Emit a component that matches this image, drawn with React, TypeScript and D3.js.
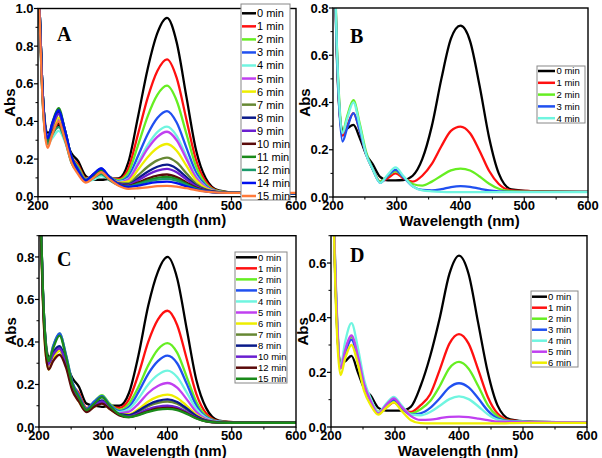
import React from "react";
import * as d3 from "d3";

// Wavelength sampling grid (nm)
const WL = [200, 203, 206, 210, 215, 222, 232, 242, 252, 262, 274, 286, 298, 310, 325, 340, 355, 370, 385, 400, 415, 430, 445, 460, 480, 510, 600];

const X_TICKS = [200, 300, 400, 500, 600];

// Panel A
const LABELS_A = ["0 min", "1 min", "2 min", "3 min", "4 min", "5 min", "6 min", "7 min", "8 min", "9 min", "10 min", "11 min", "12 min", "14 min", "15 min"];
const ABS_A: number[][] = [
  [1.3, 0.95, 0.65, 0.42, 0.34, 0.35, 0.38, 0.31, 0.23, 0.19, 0.11, 0.09, 0.09, 0.095, 0.097, 0.182, 0.424, 0.679, 0.869, 0.95, 0.82, 0.533, 0.248, 0.098, 0.033, 0.02, 0.018],
  [1.3, 0.93, 0.63, 0.4, 0.31, 0.34, 0.39, 0.31, 0.21, 0.17, 0.1, 0.1, 0.12, 0.105, 0.093, 0.149, 0.332, 0.525, 0.668, 0.73, 0.631, 0.412, 0.195, 0.081, 0.03, 0.02, 0.018],
  [1.3, 0.94, 0.64, 0.41, 0.3, 0.37, 0.44, 0.34, 0.21, 0.16, 0.095, 0.11, 0.13, 0.105, 0.088, 0.128, 0.273, 0.427, 0.541, 0.59, 0.51, 0.335, 0.161, 0.069, 0.029, 0.02, 0.018],
  [1.3, 0.95, 0.65, 0.41, 0.3, 0.38, 0.46, 0.35, 0.21, 0.15, 0.09, 0.12, 0.15, 0.11, 0.082, 0.108, 0.216, 0.332, 0.418, 0.455, 0.394, 0.261, 0.129, 0.059, 0.027, 0.02, 0.018],
  [1.3, 0.9, 0.6, 0.37, 0.28, 0.31, 0.35, 0.29, 0.18, 0.13, 0.08, 0.09, 0.11, 0.095, 0.078, 0.096, 0.182, 0.274, 0.343, 0.372, 0.323, 0.215, 0.109, 0.052, 0.026, 0.02, 0.018],
  [1.3, 0.92, 0.62, 0.38, 0.28, 0.34, 0.41, 0.32, 0.19, 0.14, 0.085, 0.11, 0.13, 0.1, 0.077, 0.092, 0.17, 0.255, 0.318, 0.345, 0.3, 0.201, 0.102, 0.05, 0.026, 0.02, 0.018],
  [1.3, 0.93, 0.63, 0.39, 0.29, 0.35, 0.42, 0.33, 0.2, 0.14, 0.085, 0.11, 0.135, 0.1, 0.075, 0.082, 0.143, 0.21, 0.259, 0.28, 0.244, 0.165, 0.087, 0.045, 0.025, 0.02, 0.018],
  [1.3, 0.94, 0.64, 0.4, 0.3, 0.37, 0.44, 0.34, 0.2, 0.14, 0.085, 0.115, 0.14, 0.105, 0.072, 0.071, 0.113, 0.159, 0.193, 0.208, 0.182, 0.125, 0.07, 0.039, 0.024, 0.02, 0.018],
  [1.3, 0.95, 0.65, 0.41, 0.3, 0.38, 0.45, 0.35, 0.21, 0.14, 0.085, 0.12, 0.145, 0.105, 0.07, 0.065, 0.097, 0.133, 0.159, 0.17, 0.149, 0.104, 0.06, 0.036, 0.024, 0.02, 0.018],
  [1.3, 0.94, 0.64, 0.4, 0.3, 0.37, 0.44, 0.34, 0.2, 0.14, 0.085, 0.115, 0.14, 0.1, 0.068, 0.062, 0.087, 0.117, 0.139, 0.148, 0.13, 0.092, 0.055, 0.034, 0.023, 0.02, 0.018],
  [1.3, 0.92, 0.62, 0.38, 0.28, 0.34, 0.39, 0.31, 0.19, 0.13, 0.08, 0.105, 0.125, 0.095, 0.065, 0.057, 0.075, 0.096, 0.112, 0.118, 0.104, 0.076, 0.048, 0.032, 0.023, 0.02, 0.018],
  [1.3, 0.95, 0.65, 0.41, 0.3, 0.39, 0.47, 0.35, 0.21, 0.14, 0.085, 0.115, 0.14, 0.1, 0.065, 0.056, 0.069, 0.087, 0.1, 0.105, 0.093, 0.068, 0.045, 0.031, 0.023, 0.02, 0.018],
  [1.3, 0.9, 0.6, 0.37, 0.28, 0.33, 0.37, 0.3, 0.18, 0.13, 0.08, 0.1, 0.12, 0.09, 0.062, 0.054, 0.065, 0.08, 0.091, 0.095, 0.085, 0.063, 0.042, 0.03, 0.022, 0.02, 0.018],
  [1.3, 0.95, 0.65, 0.41, 0.31, 0.39, 0.46, 0.35, 0.21, 0.14, 0.085, 0.12, 0.15, 0.105, 0.065, 0.052, 0.059, 0.07, 0.077, 0.08, 0.072, 0.055, 0.039, 0.029, 0.022, 0.02, 0.018],
  [1.3, 0.9, 0.6, 0.36, 0.26, 0.33, 0.4, 0.3, 0.18, 0.12, 0.075, 0.1, 0.13, 0.095, 0.058, 0.042, 0.045, 0.05, 0.056, 0.058, 0.054, 0.045, 0.035, 0.027, 0.022, 0.02, 0.02],
];

// Panel B
const LABELS_B = ["0 min", "1 min", "2 min", "3 min", "4 min"];
const ABS_B: number[][] = [
  [1.3, 0.9, 0.6, 0.37, 0.28, 0.29, 0.305, 0.25, 0.18, 0.14, 0.085, 0.07, 0.07, 0.072, 0.09, 0.16, 0.3, 0.5, 0.67, 0.725, 0.66, 0.47, 0.25, 0.1, 0.032, 0.025, 0.022],
  [1.3, 0.93, 0.63, 0.38, 0.26, 0.3, 0.355, 0.28, 0.18, 0.12, 0.065, 0.08, 0.1, 0.08, 0.065, 0.09, 0.14, 0.215, 0.28, 0.298, 0.27, 0.195, 0.11, 0.055, 0.028, 0.025, 0.022],
  [1.3, 0.95, 0.65, 0.4, 0.275, 0.34, 0.41, 0.31, 0.19, 0.12, 0.065, 0.09, 0.11, 0.085, 0.055, 0.048, 0.065, 0.09, 0.113, 0.12, 0.112, 0.087, 0.056, 0.035, 0.025, 0.023, 0.022],
  [1.3, 0.92, 0.62, 0.37, 0.235, 0.29, 0.355, 0.28, 0.18, 0.12, 0.06, 0.09, 0.115, 0.085, 0.045, 0.03, 0.028, 0.033, 0.042, 0.046, 0.043, 0.035, 0.028, 0.024, 0.022, 0.022, 0.022],
  [1.3, 0.94, 0.64, 0.39, 0.27, 0.33, 0.4, 0.3, 0.18, 0.12, 0.06, 0.095, 0.125, 0.09, 0.045, 0.028, 0.024, 0.022, 0.021, 0.021, 0.021, 0.021, 0.021, 0.021, 0.021, 0.021, 0.021],
];

// Panel C
const LABELS_C = ["0 min", "1 min", "2 min", "3 min", "4 min", "5 min", "6 min", "7 min", "8 min", "10 min", "12 min", "15 min"];
const ABS_C: number[][] = [
  [1.3, 0.95, 0.65, 0.42, 0.33, 0.34, 0.36, 0.3, 0.23, 0.19, 0.11, 0.1, 0.095, 0.1, 0.1, 0.16, 0.34, 0.57, 0.73, 0.8, 0.7, 0.46, 0.22, 0.09, 0.03, 0.022, 0.02],
  [1.3, 0.93, 0.63, 0.39, 0.3, 0.33, 0.37, 0.3, 0.2, 0.16, 0.09, 0.1, 0.12, 0.1, 0.09, 0.13, 0.25, 0.4, 0.505, 0.547, 0.48, 0.32, 0.155, 0.065, 0.028, 0.022, 0.02],
  [1.3, 0.95, 0.65, 0.41, 0.31, 0.38, 0.44, 0.34, 0.21, 0.15, 0.085, 0.12, 0.15, 0.11, 0.08, 0.11, 0.19, 0.29, 0.365, 0.395, 0.35, 0.235, 0.117, 0.052, 0.026, 0.021, 0.02],
  [1.3, 0.95, 0.65, 0.41, 0.3, 0.38, 0.44, 0.34, 0.21, 0.15, 0.085, 0.12, 0.145, 0.105, 0.075, 0.095, 0.165, 0.25, 0.31, 0.336, 0.3, 0.203, 0.1, 0.047, 0.025, 0.021, 0.02],
  [1.3, 0.92, 0.62, 0.38, 0.29, 0.34, 0.38, 0.3, 0.19, 0.13, 0.08, 0.1, 0.12, 0.095, 0.07, 0.085, 0.135, 0.2, 0.245, 0.265, 0.235, 0.162, 0.085, 0.042, 0.024, 0.021, 0.02],
  [1.3, 0.92, 0.62, 0.38, 0.29, 0.33, 0.37, 0.3, 0.19, 0.13, 0.08, 0.1, 0.12, 0.09, 0.065, 0.072, 0.11, 0.16, 0.193, 0.207, 0.185, 0.13, 0.07, 0.037, 0.023, 0.021, 0.02],
  [1.3, 0.9, 0.6, 0.36, 0.27, 0.32, 0.36, 0.29, 0.18, 0.12, 0.075, 0.095, 0.115, 0.085, 0.06, 0.06, 0.085, 0.12, 0.143, 0.152, 0.137, 0.1, 0.058, 0.033, 0.022, 0.02, 0.02],
  [1.3, 0.93, 0.63, 0.39, 0.3, 0.34, 0.37, 0.3, 0.19, 0.13, 0.08, 0.1, 0.12, 0.09, 0.06, 0.055, 0.073, 0.098, 0.114, 0.12, 0.11, 0.082, 0.05, 0.03, 0.022, 0.02, 0.02],
  [1.3, 0.94, 0.64, 0.4, 0.3, 0.35, 0.38, 0.31, 0.19, 0.13, 0.08, 0.105, 0.125, 0.09, 0.06, 0.056, 0.077, 0.105, 0.123, 0.13, 0.118, 0.087, 0.052, 0.031, 0.022, 0.02, 0.02],
  [1.3, 0.93, 0.63, 0.39, 0.3, 0.34, 0.37, 0.3, 0.19, 0.13, 0.08, 0.1, 0.12, 0.09, 0.058, 0.05, 0.064, 0.084, 0.096, 0.1, 0.092, 0.07, 0.045, 0.028, 0.021, 0.02, 0.02],
  [1.3, 0.9, 0.6, 0.36, 0.27, 0.31, 0.34, 0.28, 0.17, 0.12, 0.07, 0.095, 0.11, 0.085, 0.055, 0.046, 0.058, 0.075, 0.087, 0.09, 0.084, 0.065, 0.042, 0.027, 0.021, 0.02, 0.02],
  [1.3, 0.95, 0.65, 0.41, 0.31, 0.37, 0.43, 0.33, 0.2, 0.14, 0.08, 0.11, 0.14, 0.1, 0.06, 0.046, 0.056, 0.071, 0.082, 0.085, 0.079, 0.062, 0.04, 0.026, 0.021, 0.02, 0.02],
];

// Panel D
const LABELS_D = ["0 min", "1 min", "2 min", "3 min", "4 min", "5 min", "6 min"];
const ABS_D: number[][] = [
  [1.3, 0.9, 0.6, 0.34, 0.23, 0.24, 0.26, 0.2, 0.14, 0.115, 0.07, 0.06, 0.06, 0.06, 0.075, 0.15, 0.26, 0.4, 0.56, 0.627, 0.56, 0.38, 0.2, 0.08, 0.028, 0.02, 0.017],
  [1.3, 0.93, 0.62, 0.36, 0.23, 0.28, 0.33, 0.26, 0.16, 0.1, 0.055, 0.07, 0.09, 0.07, 0.055, 0.08, 0.12, 0.21, 0.305, 0.34, 0.305, 0.21, 0.11, 0.05, 0.024, 0.02, 0.017],
  [1.3, 0.94, 0.63, 0.36, 0.22, 0.27, 0.33, 0.26, 0.16, 0.1, 0.055, 0.075, 0.095, 0.07, 0.05, 0.065, 0.095, 0.15, 0.215, 0.238, 0.213, 0.15, 0.08, 0.04, 0.022, 0.019, 0.017],
  [1.3, 0.92, 0.62, 0.35, 0.215, 0.27, 0.32, 0.25, 0.15, 0.095, 0.05, 0.075, 0.1, 0.07, 0.045, 0.05, 0.07, 0.105, 0.145, 0.16, 0.145, 0.105, 0.06, 0.032, 0.021, 0.019, 0.017],
  [1.3, 0.95, 0.65, 0.38, 0.225, 0.31, 0.38, 0.29, 0.17, 0.105, 0.055, 0.085, 0.11, 0.08, 0.045, 0.043, 0.055, 0.078, 0.102, 0.112, 0.102, 0.076, 0.046, 0.027, 0.02, 0.019, 0.017],
  [1.3, 0.94, 0.64, 0.37, 0.215, 0.28, 0.335, 0.26, 0.155, 0.095, 0.05, 0.08, 0.105, 0.075, 0.04, 0.026, 0.027, 0.032, 0.037, 0.038, 0.036, 0.031, 0.025, 0.02, 0.019, 0.018, 0.017],
  [1.3, 0.9, 0.58, 0.31, 0.19, 0.25, 0.3, 0.23, 0.13, 0.08, 0.045, 0.07, 0.09, 0.06, 0.025, 0.014, 0.013, 0.013, 0.013, 0.013, 0.013, 0.013, 0.013, 0.013, 0.014, 0.015, 0.015],
];

// Styles
const COLORS_A = ["#000000", "#ff1010", "#66ee22", "#2050f0", "#70f5e0", "#c040f0", "#eeee00", "#668833", "#0a1a8a", "#6a1fd0", "#5a0a0a", "#1a8a1a", "#1a9a6a", "#0010ee", "#ff7a3a"];
const COLORS_B = ["#000000", "#ff1010", "#66ee22", "#2050f0", "#70f5e0"];
const COLORS_C = ["#000000", "#ff1010", "#66ee22", "#2050f0", "#70f5e0", "#c040f0", "#eeee00", "#668833", "#0a1a8a", "#6a1fd0", "#5a0a0a", "#1a8a1a"];
const COLORS_D = ["#000000", "#ff1010", "#66ee22", "#2050f0", "#70f5e0", "#c040f0", "#eeee00"];

type Layout = {
  id: string; left: number; right: number; top: number; bottom: number; yMax: number;
  letter: string; letterX: number; letterY: number;
  legend: { x: number; y: number; w: number; h: number; firstY: number; rowH: number; lx0: number; lx1: number; tx: number; fs: number };
};

const FONT = "Arial, 'Liberation Sans', sans-serif";

function Panel({ L, labels, values, colors }: { L: Layout; labels: string[]; values: number[][]; colors: string[] }) {
  const x = d3.scaleLinear().domain([200, 600]).range([L.left, L.right]);
  const y = d3.scaleLinear().domain([0, L.yMax]).range([L.bottom, L.top]);
  const line = d3.line<number>().x((_, i) => x(WL[i])).y((d) => y(d)).curve(d3.curveMonotoneX);
  const yMajor = d3.range(0, L.yMax + 1e-6, 0.2);
  const yMinor = d3.range(0.1, L.yMax + 1e-6, 0.2);
  const xMinor = d3.range(250, 600, 100);
  const fmt = d3.format(".1f");
  const lg = L.legend;
  return (
    <g>
      <defs>
        <clipPath id={`clip-${L.id}`}>
          <rect x={L.left} y={L.top} width={L.right - L.left} height={L.bottom - L.top} />
        </clipPath>
      </defs>
      <g clipPath={`url(#clip-${L.id})`}>
        {values.map((v, i) => (
          <path key={i} d={line(v) || ""} fill="none" stroke={colors[i]} strokeWidth={2.3} strokeLinejoin="round" />
        ))}
      </g>
      <rect x={L.left} y={L.top} width={L.right - L.left} height={L.bottom - L.top} fill="none" stroke="#000" strokeWidth={1.4} />
      {X_TICKS.map((t) => (
        <g key={t}>
          <line x1={x(t)} x2={x(t)} y1={L.bottom} y2={L.bottom + 4} stroke="#000" strokeWidth={1.2} />
          <text x={x(t)} y={L.bottom + 13} textAnchor="middle" fontFamily={FONT} fontWeight="bold" fontSize={13}>{t}</text>
        </g>
      ))}
      {xMinor.map((t) => (
        <line key={t} x1={x(t)} x2={x(t)} y1={L.bottom} y2={L.bottom + 2.5} stroke="#000" strokeWidth={1} />
      ))}
      {yMajor.map((t) => (
        <g key={t}>
          <line x1={L.left - 4} x2={L.left} y1={y(t)} y2={y(t)} stroke="#000" strokeWidth={1.2} />
          <text x={L.left - 4.5} y={y(t) + 4.6} textAnchor="end" fontFamily={FONT} fontWeight="bold" fontSize={13}>{fmt(t)}</text>
        </g>
      ))}
      {yMinor.map((t) => (
        <line key={t} x1={L.left - 2.5} x2={L.left} y1={y(t)} y2={y(t)} stroke="#000" strokeWidth={1} />
      ))}
      <text x={(L.left + L.right) / 2 - 1} y={L.bottom + 28.5} textAnchor="middle" fontFamily={FONT} fontWeight="bold" fontSize={15}>Wavelength (nm)</text>
      <text transform={`translate(${L.left - 23.5},${(L.top + L.bottom) / 2}) rotate(-90)`} textAnchor="middle" fontFamily={FONT} fontWeight="bold" fontSize={15}>Abs</text>
      <text x={L.letterX} y={L.letterY} fontFamily="'Liberation Serif', 'Times New Roman', serif" fontWeight="bold" fontSize={20}>{L.letter}</text>
      <g>
        <rect x={lg.x} y={lg.y} width={lg.w} height={lg.h} fill="#fff" stroke="#888" strokeWidth={1} />
        {labels.map((lab, i) => (
          <g key={lab}>
            <line x1={lg.lx0} x2={lg.lx1} y1={lg.firstY + i * lg.rowH} y2={lg.firstY + i * lg.rowH} stroke={colors[i]} strokeWidth={2.5} />
            <text x={lg.tx} y={lg.firstY + i * lg.rowH + lg.fs * 0.36} fontFamily={FONT} fontSize={lg.fs}>{lab}</text>
          </g>
        ))}
      </g>
    </g>
  );
}

const LAYOUT_A: Layout = {
  id: "A", left: 38, right: 296, top: 8.5, bottom: 196.7, yMax: 1.0, letter: "A", letterX: 57, letterY: 41,
  legend: { x: 241, y: 4, w: 49, h: 196, firstY: 13.3, rowH: 13.05, lx0: 242, lx1: 256, tx: 257, fs: 11 },
};
const LAYOUT_B: Layout = {
  id: "B", left: 333, right: 588, top: 8, bottom: 197, yMax: 0.8, letter: "B", letterX: 350, letterY: 43,
  legend: { x: 537, y: 66, w: 48, h: 57, firstY: 71, rowH: 11.8, lx0: 538, lx1: 555, tx: 556.5, fs: 9.5 },
};
const LAYOUT_C: Layout = {
  id: "C", left: 39, right: 296, top: 235.7, bottom: 427, yMax: 0.9, letter: "C", letterX: 57, letterY: 266,
  legend: { x: 235, y: 252, w: 52, h: 131, firstY: 257.3, rowH: 11.04, lx0: 236, lx1: 257, tx: 258, fs: 9.5 },
};
const LAYOUT_D: Layout = {
  id: "D", left: 331, right: 587, top: 235.7, bottom: 427, yMax: 0.7, letter: "D", letterX: 350, letterY: 262,
  legend: { x: 531, y: 291, w: 47, h: 76, firstY: 296.7, rowH: 11, lx0: 532, lx1: 547, tx: 548, fs: 9.5 },
};

export default function App() {
  return (
    <svg width={602} height={458} style={{ position: "absolute", left: 0, top: 0, background: "#fff" }}>
      <rect x={0} y={0} width={602} height={458} fill="#fff" />
      <Panel L={LAYOUT_A} labels={LABELS_A} values={ABS_A} colors={COLORS_A} />
      <Panel L={LAYOUT_B} labels={LABELS_B} values={ABS_B} colors={COLORS_B} />
      <Panel L={LAYOUT_C} labels={LABELS_C} values={ABS_C} colors={COLORS_C} />
      <Panel L={LAYOUT_D} labels={LABELS_D} values={ABS_D} colors={COLORS_D} />
    </svg>
  );
}
